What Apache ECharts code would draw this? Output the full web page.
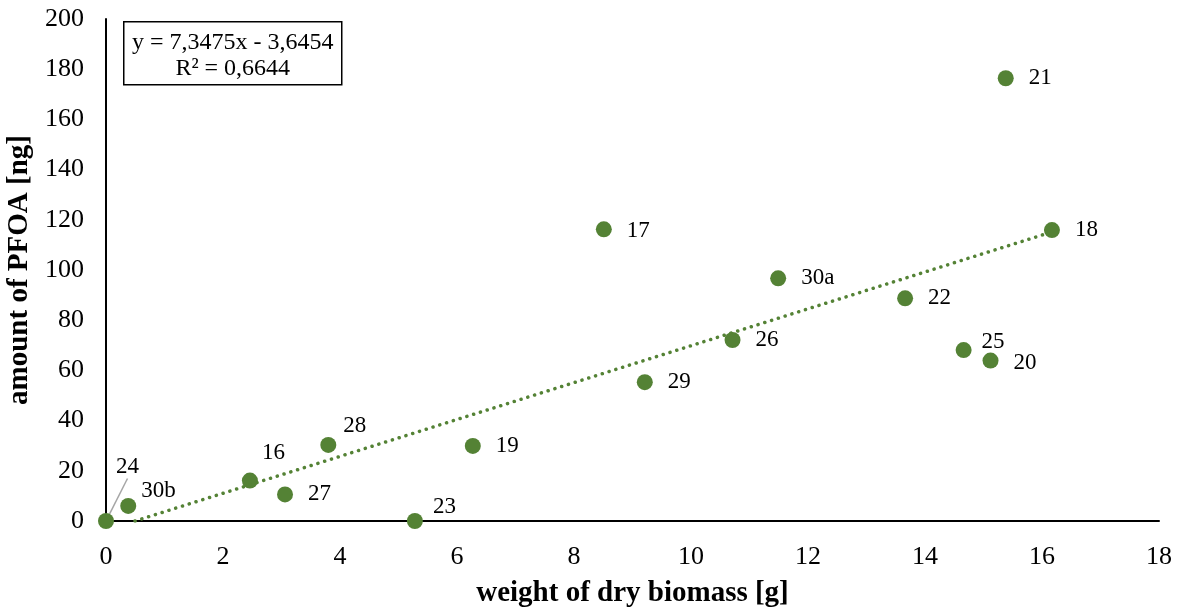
<!DOCTYPE html>
<html><head><meta charset="utf-8">
<script src="https://cdn.jsdelivr.net/npm/echarts@6/dist/echarts.min.js"></script>
<style>html,body{margin:0;padding:0;background:#fff}#c{width:1191px;height:613px}</style>
</head><body><div id="c"></div>
<script>
// ---- data ----
const sampleLabels = ['24','30b','16','27','28','23','19','17','29','26','30a','22','25','20','21','18'];
const biomass = [0, 0.38, 2.46, 3.06, 3.80, 5.28, 6.27, 8.51, 9.21, 10.71, 11.49, 13.66, 14.66, 15.12, 15.38, 16.17];
const pfoa    = [0, 6.0, 16.1, 10.6, 30.3, 0, 29.9, 116.2, 55.3, 72.1, 96.7, 88.7, 68.1, 63.9, 176.4, 115.9];
const xRange = {min: 0, max: 18, interval: 2};
const yRange = {min: 0, max: 200, interval: 20};
const trendSlope = 7.3475, trendIntercept = -3.6454;
const equationText = ['y = 7,3475x - 3,6454', 'R² = 0,6644'];

// ---- label placement tweaks (style, not data) ----
const labelNudge = {
  '24': [-13, -54], '30b': [-10, -15], '16': [-11, -28], '28': [-8, -19],
  '23': [-5, -14], '25': [-5, -8], '17': [0, 2], '20': [0, 2]
};

const FONT = '"Liberation Serif", "Times New Roman", serif';
const GREEN = '#548235';

const pts = biomass.map((x, i) => {
  const item = {value: [x, pfoa[i]], name: sampleLabels[i]};
  if (sampleLabels[i] === '24') {
    item.labelLine = {show: true, lineStyle: {color: '#a6a6a6', width: 1.5}};
  }
  return item;
});
const xStart = -trendIntercept / trendSlope;
const xEnd = Math.max(...biomass);
const trend = [[xStart, trendSlope * xStart + trendIntercept], [xEnd, trendSlope * xEnd + trendIntercept]];

const chart = echarts.init(document.getElementById('c'), null, {renderer: 'canvas'});
chart.setOption({
  animation: false,
  backgroundColor: '#fff',
  textStyle: {fontFamily: FONT},
  grid: {left: 106, right: 32, top: 19, bottom: 92, containLabel: false, outerBoundsMode: 'none'},
  xAxis: {
    type: 'value', min: xRange.min, max: xRange.max, interval: xRange.interval,
    name: 'weight of dry biomass [g]', nameLocation: 'middle', nameGap: 58,
    nameTextStyle: {fontFamily: FONT, fontSize: 29, fontWeight: 'bold', color: '#000'},
    axisLine: {show: true, lineStyle: {color: '#000', width: 2}},
    axisTick: {show: false},
    axisLabel: {fontFamily: FONT, fontSize: 26, color: '#000', margin: 23},
    splitLine: {show: false}
  },
  yAxis: {
    type: 'value', min: yRange.min, max: yRange.max, interval: yRange.interval,
    name: 'amount of PFOA [ng]', nameLocation: 'middle', nameGap: 70,
    nameTextStyle: {fontFamily: FONT, fontSize: 29, fontWeight: 'bold', color: '#000'},
    axisLine: {show: true, lineStyle: {color: '#000', width: 2}},
    axisTick: {show: false},
    axisLabel: {fontFamily: FONT, fontSize: 26, color: '#000', margin: 22},
    splitLine: {show: false}
  },
  series: [
    {
      type: 'scatter', data: pts, symbolSize: 16, z: 2,
      itemStyle: {color: GREEN, opacity: 1},
      label: {
        show: true, position: 'right', distance: 15,
        formatter: p => p.name, fontFamily: FONT, fontSize: 23, color: '#000'
      },
      labelLayout: function (params) {
        const n = labelNudge[sampleLabels[params.dataIndex]];
        return n ? {dx: n[0], dy: n[1]} : {};
      }
    },
    {
      type: 'line', data: trend, symbol: 'none', z: 3, silent: true,
      lineStyle: {color: GREEN, width: 3.5, type: [0.1, 7], cap: 'round'}
    }
  ],
  graphic: [{
    type: 'group', left: 123, top: 21,
    children: [
      {type: 'rect', shape: {x: 0, y: 0, width: 218, height: 63},
       style: {fill: '#fff', stroke: '#000', lineWidth: 1.5}},
      {type: 'text', style: {x: 109, y: 21, text: equationText[0], font: '24px ' + FONT,
        fill: '#000', textAlign: 'center', textVerticalAlign: 'middle'}},
      {type: 'text', style: {x: 109, y: 47, text: equationText[1], font: '24px ' + FONT,
        fill: '#000', textAlign: 'center', textVerticalAlign: 'middle'}}
    ]
  }]
});
</script></body></html>
